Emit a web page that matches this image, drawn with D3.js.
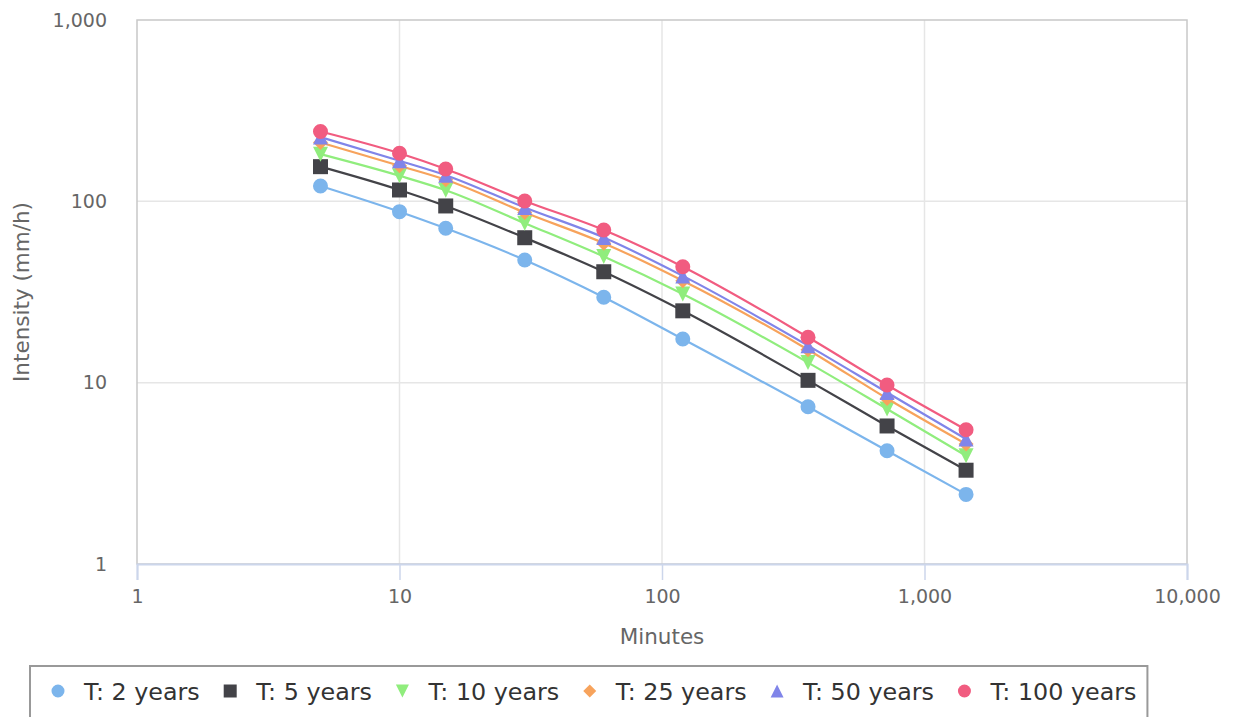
<!DOCTYPE html>
<html>
<head>
<meta charset="utf-8">
<script src="https://cdn.jsdelivr.net/npm/d3@7"></script>
<style>
  body { margin: 0; background: #fff; }
  svg { display: block; font-family: "DejaVu Sans", sans-serif; }
</style>
</head>
<body>
<div id="plot"></div>
<script>
// durations (minutes) and intensities (mm/h) per return period
var minutes = [5, 10, 15, 30, 60, 120, 360, 720, 1440];
var seriesNames = ['T: 2 years', 'T: 5 years', 'T: 10 years', 'T: 25 years', 'T: 50 years', 'T: 100 years'];
var t2   = [121.6, 87.7, 71.0, 47.5, 29.6, 17.4, 7.37, 4.21, 2.42];
var t5   = [155.3, 115.5, 94.3, 63.0, 40.9, 24.9, 10.3, 5.77, 3.29];
var t10  = [182, 138.3, 115.2, 75.8, 49.6, 30.8, 12.9, 7.16, 3.95];
var t25  = [211, 157, 131.5, 86.8, 58.8, 36.5, 15.2, 8.18, 4.59];
var t50  = [226, 167.4, 139.4, 92.5, 63.2, 38.8, 16.0, 8.83, 4.89];
var t100 = [242.7, 184.1, 150.7, 100.5, 69.5, 43.6, 17.8, 9.71, 5.50];
var xTicks = [1, 10, 100, 1000, 10000];
var yTicks = [1, 10, 100, 1000];

var colors = ['#7cb5ec', '#434348', '#90ed7d', '#f7a35c', '#8085e9', '#f15c80'];
var symbols = ['circle', 'square', 'triangle-down', 'diamond', 'triangle', 'circle'];
var allValues = [t2, t5, t10, t25, t50, t100];

var W = 1233, H = 717;
var margin = {t:20, r:46, b:153, l:137};
var width = W - margin.l - margin.r,
    height = H - margin.t - margin.b;

var svg = d3.select('#plot')
    .append('svg')
    .attr('width', W)
    .attr('height', H);

var x = d3.scaleLog().domain([1, 10000]).range([margin.l, margin.l + width]);
var y = d3.scaleLog().domain([1, 1000]).range([margin.t + height, margin.t]);
var fmt = d3.format(',');

// grid
svg.append('g').selectAll('line')
    .data(yTicks.slice(1, -1))
    .enter().append('line')
    .attr('x1', margin.l).attr('x2', margin.l + width)
    .attr('y1', function(d){ return y(d); }).attr('y2', function(d){ return y(d); })
    .attr('stroke', '#e6e6e6').attr('stroke-width', 1.5);
svg.append('g').selectAll('line')
    .data(xTicks.slice(1, -1))
    .enter().append('line')
    .attr('x1', function(d){ return x(d); }).attr('x2', function(d){ return x(d); })
    .attr('y1', margin.t).attr('y2', margin.t + height)
    .attr('stroke', '#e6e6e6').attr('stroke-width', 1.5);

// plot border
svg.append('rect')
    .attr('x', margin.l).attr('y', margin.t)
    .attr('width', width).attr('height', height)
    .attr('fill', 'none').attr('stroke', '#c8c8c8').attr('stroke-width', 1.5);

// x axis
var xAxis = d3.axisBottom(x).tickValues(xTicks).tickFormat(fmt).tickSize(16).tickPadding(10);
var gx = svg.append('g')
    .attr('transform', 'translate(0,' + (margin.t + height) + ')')
    .call(xAxis);
gx.select('.domain').attr('stroke', '#ccd6eb').attr('stroke-width', 2);
gx.selectAll('.tick line').attr('stroke', '#ccd6eb').attr('stroke-width', 1.5);
gx.selectAll('.tick text').attr('fill', '#666').style('font-size', '19px')
    .style('font-family', '"DejaVu Sans", sans-serif');

// y axis
var yAxis = d3.axisLeft(y).tickValues(yTicks).tickFormat(fmt).tickSize(0).tickPadding(30);
var gy = svg.append('g')
    .attr('transform', 'translate(' + margin.l + ',0)')
    .call(yAxis);
gy.select('.domain').remove();
gy.selectAll('.tick text').attr('fill', '#666').style('font-size', '19px')
    .style('font-family', '"DejaVu Sans", sans-serif');

// axis titles
svg.append('text')
    .attr('x', margin.l + width / 2).attr('y', 644)
    .attr('text-anchor', 'middle')
    .attr('fill', '#666').style('font-size', '21.5px')
    .text('Minutes');
svg.append('text')
    .attr('transform', 'translate(29,' + (margin.t + height / 2) + ') rotate(-90)')
    .attr('text-anchor', 'middle')
    .attr('fill', '#666').style('font-size', '21.5px')
    .text('Intensity (mm/h)');

function symbolPath(type, cx, cy, r) {
    if (type == 'square') {
        return 'M' + (cx - r) + ',' + (cy - r) + 'h' + (2 * r) + 'v' + (2 * r) + 'h' + (-2 * r) + 'Z';
    }
    if (type == 'triangle') {
        return 'M' + cx + ',' + (cy - r) + 'L' + (cx + r) + ',' + (cy + r) + 'L' + (cx - r) + ',' + (cy + r) + 'Z';
    }
    if (type == 'triangle-down') {
        return 'M' + (cx - r) + ',' + (cy - r) + 'L' + (cx + r) + ',' + (cy - r) + 'L' + cx + ',' + (cy + r) + 'Z';
    }
    if (type == 'diamond') {
        return 'M' + cx + ',' + (cy - r) + 'L' + (cx + r) + ',' + cy + 'L' + cx + ',' + (cy + r) + 'L' + (cx - r) + ',' + cy + 'Z';
    }
    return 'M' + (cx - r) + ',' + cy + 'a' + r + ',' + r + ' 0 1,0 ' + (2 * r) + ',0' + 'a' + r + ',' + r + ' 0 1,0 ' + (-2 * r) + ',0';
}

var line = d3.line()
    .x(function(d){ return x(d.m); })
    .y(function(d){ return y(d.v); })
    .curve(d3.curveMonotoneX);

var series = seriesNames.map(function(name, i) {
    return {
        name: name,
        color: colors[i],
        symbol: symbols[i],
        points: minutes.map(function(m, j){ return {m: m, v: allValues[i][j]}; })
    };
});

var groups = svg.selectAll('.series')
    .data(series)
    .enter()
    .append('g')
    .attr('class', 'series');

groups.append('path')
    .attr('d', function(d){ return line(d.points); })
    .attr('fill', 'none')
    .attr('stroke', function(d){ return d.color; })
    .attr('stroke-width', 2.2);

groups.each(function(s) {
    d3.select(this).selectAll('.marker')
        .data(s.points)
        .enter().append('path')
        .attr('class', 'marker')
        .attr('d', function(d){ return symbolPath(s.symbol, x(d.m), y(d.v), 7.5); })
        .attr('fill', s.color);
});

// legend
var legend = svg.append('g');
var box = legend.append('rect')
    .attr('x', 30).attr('y', 666)
    .attr('height', 80)
    .attr('fill', 'none')
    .attr('stroke', '#999').attr('stroke-width', 2);

var cursor = 58;
series.forEach(function(s) {
    legend.append('path')
        .attr('d', symbolPath(s.symbol, cursor, 691, 6.5))
        .attr('fill', s.color);
    var t = legend.append('text')
        .attr('x', cursor + 26).attr('y', 700)
        .attr('fill', '#333').style('font-size', '23.8px')
        .text(s.name);
    var len = t.node().getComputedTextLength();
    cursor = cursor + 26 + len + 30.5;
});
box.attr('width', cursor - 30.5 + 11 - 30);
</script>
</body>
</html>
